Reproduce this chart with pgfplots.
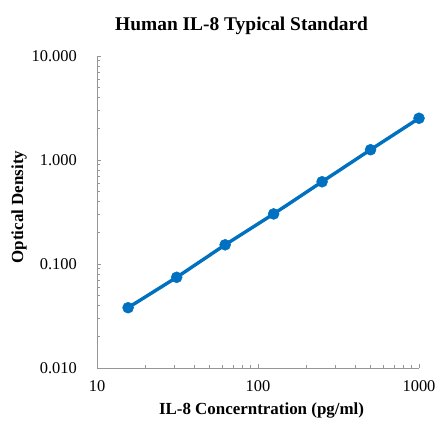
\documentclass[border=0pt]{standalone}
\usepackage{fontspec}
\setmainfont{Liberation Serif}
\usepackage{pgfplots}
\pgfplotsset{compat=1.18}
\definecolor{od}{HTML}{0070C0}
\definecolor{ax}{RGB}{150,150,150}
\begin{document}
\begin{tikzpicture}[x=1bp,y=1bp]
\useasboundingbox (0,0) rectangle (435,421);
\begin{axis}[
  at={(97bp,53bp)}, anchor=south west, scale only axis, width=322bp, height=312bp,
  xmode=log, ymode=log, xmin=10, xmax=1000, ymin=0.01, ymax=10,
  axis x line=bottom, axis y line=left,
  axis line style={-, draw=ax, line width=0.8bp},
  tick align=inside,
  tick style={draw=ax, line width=0.6bp},
  major tick length=4bp, minor tick length=3bp,
  xtick={10,100,1000}, xticklabels={10,100,1000},
  ytick={0.01,0.1,1,10}, yticklabels={0.010,0.100,1.000,10.000},
  minor xtick={20,30,40,50,60,70,80,90,200,300,400,500,600,700,800,900},
  minor ytick={0.02,0.03,0.04,0.05,0.06,0.07,0.08,0.09,0.2,0.3,0.4,0.5,0.6,0.7,0.8,0.9,2,3,4,5,6,7,8,9},
  /pgf/number format/assume math mode=true,
  ticklabel style={font=\fontsize{16.5}{19}\selectfont},
  yticklabel style={anchor=east, inner sep=0pt, xshift=-20bp},
  xticklabel style={anchor=north, inner sep=0pt, yshift=-12.5bp},
  title={Human IL-8 Typical Standard},
  title style={at={(axis description cs:0.449,1.077)}, anchor=center, font=\bfseries\fontsize{19.5}{23}\selectfont},
  xlabel={IL-8 Concerntration (pg/ml)},
  xlabel style={at={(axis description cs:0.511,-0.135)}, anchor=center, font=\bfseries\fontsize{17}{20}\selectfont},
  ylabel={Optical Density},
  ylabel style={at={(axis description cs:-0.242,0.516)}, anchor=center, font=\bfseries\fontsize{17}{20}\selectfont},
  clip=false,
]
\addplot[od, line width=3.4bp, mark=*, mark size=5.5bp, mark options={fill=od, draw=od, line width=0.5bp}] coordinates {
  (15.6,0.038) (31.25,0.0745) (62.5,0.153) (125,0.303) (250,0.618) (500,1.256) (1000,2.52)
};
\end{axis}
\end{tikzpicture}
\end{document}
